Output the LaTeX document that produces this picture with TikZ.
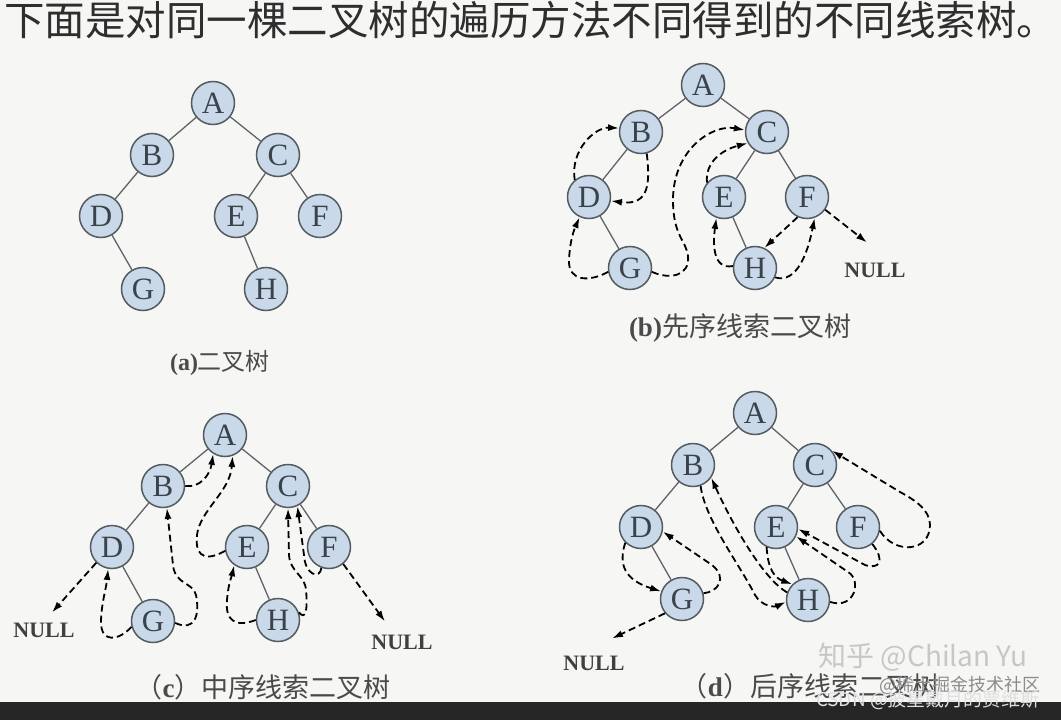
\documentclass[tikz,border=0pt]{standalone}
\usepackage{fontspec}
\setmainfont{Liberation Serif}
\newfontfamily\cjk{Noto Sans CJK SC}
\usetikzlibrary{arrows.meta}

\definecolor{nodefill}{HTML}{C9D9EA}
\definecolor{nodeline}{HTML}{545C60}
\definecolor{nodetext}{HTML}{3A424A}
\definecolor{edgegray}{HTML}{5E6468}
\definecolor{labelgray}{HTML}{4A4A4A}
\definecolor{bggray}{HTML}{F6F6F4}
\definecolor{bardark}{HTML}{262626}

\begin{document}
\begin{tikzpicture}[x=1pt,y=1pt,
  tnode/.style={circle,draw=nodeline,line width=1.5pt,fill=nodefill,minimum size=43pt,
    inner sep=0pt,text=nodetext,font=\fontsize{31}{31}\selectfont},
  edge/.style={draw=edgegray,line width=1.3pt},
  thread/.style={draw=black,line width=1.8pt,dash pattern=on 7pt off 4pt,
    -{Latex[length=11pt,width=7pt]}},
  nulltext/.style={inner sep=0pt,text=black!75,font=\bfseries\fontsize{22}{22}\selectfont},
  caption/.style={inner sep=0pt,text=labelgray}]
% background
\fill[bggray] (0,0) rectangle (1061,-720);
\fill[bardark] (0,-702) rectangle (1061,-720);
\useasboundingbox (0,0) rectangle (1061,-720);
% title
\node[inner sep=0pt,text=black!82,font=\cjk\fontsize{40.5}{40.5}\selectfont] (title) at (531,-20)
  {下面是对同一棵二叉树的遍历方法不同得到的不同线索树。};
% tree nodes
\foreach \n/\x/\y in {A/213/103,B/152/155,C/278/155,D/101/216,E/236/216,F/320/216,G/143/289,H/266/289}
  \node[tnode] (a\n) at (\x,-\y) {\n};
\foreach \n/\x/\y in {A/703/85,B/641/132,C/767/132,D/589/197,E/724/197,F/807/197,G/630/268,H/755/268}
  \node[tnode] (b\n) at (\x,-\y) {\n};
\foreach \n/\x/\y in {A/225/435,B/163/486,C/288/486,D/112/547,E/247/547,F/329/547,G/153/621,H/278/620}
  \node[tnode] (c\n) at (\x,-\y) {\n};
\foreach \n/\x/\y in {A/755/413,B/693/465,C/815/465,D/641/527,E/776/527,F/858/527,G/682/599,H/808/600}
  \node[tnode] (d\n) at (\x,-\y) {\n};
% tree edges
\foreach \t in {a,b,c,d}
  \foreach \p/\c in {A/B,A/C,B/D,C/E,C/F,D/G,E/H}
    \draw[edge] (\t\p) -- (\t\c);
% null ends
\node[nulltext] (bnull) at (875,-270) {NULL};
\node[nulltext] (cnullL) at (44,-630) {NULL};
\node[nulltext] (cnullR) at (402,-642) {NULL};
\node[nulltext] (dnull) at (594,-663) {NULL};
% (b) preorder threads
\draw[thread] (bD.130) .. controls (570,-150) and (595,-127) .. (bB.170);
\draw[thread] (bB.-75) .. controls (650,-182) and (650,-206) .. (bD.-10);
\draw[thread] (bG.190) .. controls (590,-282) and (568,-282) .. (569,-260)
  .. controls (570,-240) and (574,-230) .. (bD.-115);
\draw[thread] (bG.-10) .. controls (670,-280) and (690,-276) .. (688,-256)
  .. controls (686,-240) and (673,-236) .. (673,-200)
  .. controls (673,-150) and (712,-124) .. (bC.175);
\draw[thread] (bE.140) .. controls (705,-162) and (722,-150) .. (bC.210);
\draw[thread] (bH.175) .. controls (712,-270) and (713,-242) .. (bE.-110);
\draw[thread] (bH.-25) .. controls (797,-284) and (808,-252) .. (bF.-70);
\draw[thread] (bF.-115) -- (bH.65);
\draw[thread] (bF.-35) -- ([shift={(-8,20)}]bnull.north);
% (c) inorder threads
\draw[thread] (cD.-135) -- ([shift={(8,10)}]cnullL.north);
\draw[thread] (cG.195) .. controls (120,-640) and (100,-645) .. (101,-620)
  .. controls (102,-600) and (106,-590) .. (cD.-100);
\draw[thread] (cG.-5) .. controls (195,-632) and (200,-615) .. (196,-595)
  .. controls (193,-582) and (175,-585) .. (173,-565) -- (cB.-80);
\draw[thread] (cB.0) .. controls (200,-488) and (210,-475) .. (cA.-122);
\draw[thread] (cE.190) .. controls (200,-565) and (195,-550) .. (197,-535)
  .. controls (200,-510) and (230,-492) .. (cA.-70);
\draw[thread] (cH.180) .. controls (235,-628) and (225,-620) .. (227,-600)
  .. controls (228,-585) and (232,-575) .. (cE.-125);
\draw[thread] (cH.20) .. controls (305,-620) and (308,-612) .. (306,-590)
  .. controls (305,-575) and (290,-572) .. (289,-555) -- (cC.-90);
\draw[thread] (cF.-110) .. controls (320,-580) and (305,-575) .. (304,-555) -- (cC.-65);
\draw[thread] (cF.-50) -- ([shift={(-17,13)}]cnullR.north);
% (d) postorder threads
\draw[thread] (dD.-135) .. controls (618,-565) and (625,-580) .. (dG.160);
\draw[thread] (dG.-140) -- ([shift={(18,17)}]dnull.north);
\draw[thread] (dG.15) .. controls (718,-592) and (728,-578) .. (712,-565) -- (dD.-12);
\draw[thread] (dB.-70) .. controls (705,-520) and (740,-565) .. (755,-595)
  .. controls (762,-607) and (775,-607) .. (dH.185);
\draw[thread] (dH.160) .. controls (765,-580) and (735,-530) .. (dB.-35);
\draw[thread] (dE.-115) .. controls (768,-570) and (775,-578) .. (dH.135);
\draw[thread] (dH.-5) .. controls (855,-610) and (862,-580) .. (848,-572) -- (dE.-25);
\draw[thread] (dF.-50) .. controls (885,-560) and (880,-570) .. (865,-565) -- (dE.-5);
\draw[thread] (dF.-10) .. controls (895,-555) and (930,-552) .. (930,-525)
  .. controls (930,-510) and (915,-500) .. (900,-492) -- (dC.40);
% captions
\node[caption,font=\fontsize{24}{24}\selectfont] (capa) at (220,-363)
  {\textbf{(a)}{\cjk 二叉树}};
\node[caption,font=\fontsize{27}{27}\selectfont] (capb) at (740,-328)
  {\textbf{(b)}{\cjk 先序线索二叉树}};
\node[caption,font=\fontsize{27}{27}\selectfont] (capc) at (263,-687)
  {{\cjk （}\textbf{c}{\cjk ）中序线索二叉树}};
\node[caption,font=\fontsize{27}{27}\selectfont] (capd) at (810,-686)
  {{\cjk （}\textbf{d}{\cjk ）后序线索二叉树}};
% watermarks
\node[inner sep=0pt,text=black!22,font=\cjk\fontsize{28}{28}\selectfont] (zhihu) at (923,-657)
  {知乎 @Chilan Yu};
\node[inner sep=0pt,text=black!45,font=\cjk\fontsize{18}{18}\selectfont] (juejin) at (960,-685)
  {@稀土掘金技术社区};
\node[inner sep=0pt,text=black!12,font=\cjk\fontsize{19}{19}\selectfont] (csdn) at (928,-700)
  {CSDN @披星戴月的贾维斯};
\end{tikzpicture}
\end{document}
